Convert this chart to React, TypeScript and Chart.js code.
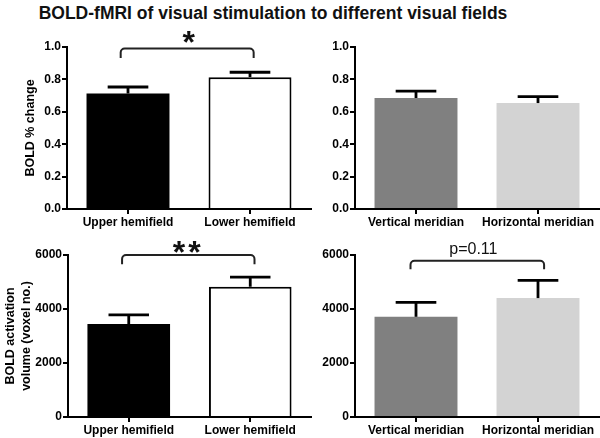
import React, { useEffect, useRef } from 'react';
import { Chart, registerables } from 'chart.js';

Chart.register(...registerables);

// ---- data ----
const hemifieldLabels = ['Upper hemifield', 'Lower hemifield'];
const meridianLabels = ['Vertical meridian', 'Horizontal meridian'];

const hemiPctMean = [0.713, 0.814];
const hemiPctSem = [0.04, 0.03];
const meridPctMean = [0.685, 0.654];
const meridPctSem = [0.043, 0.04];

const hemiVolMean = [3440, 4824];
const hemiVolSem = [345, 360];
const meridVolMean = [3711, 4404];
const meridVolSem = [534, 657];

const pctTicks = [0, 0.2, 0.4, 0.6, 0.8, 1.0];
const volTicks = [0, 2000, 4000, 6000];

const hemiColors = ['#000000', '#ffffff'];
const meridColors = ['#808080', '#d3d3d3'];

const FONT = '"Liberation Sans", Arial, Helvetica, sans-serif';

const annotPlugin = {
  id: 'annot',
  afterDatasetsDraw(chart: any, _args: any, opts: any) {
    const ctx = chart.ctx;
    const xs = chart.scales.x;
    const ys = chart.scales.y;
    const meta = chart.getDatasetMeta(0);
    ctx.save();
    // error bars (upper only)
    ctx.strokeStyle = '#000';
    ctx.lineWidth = 2.8;
    ctx.lineCap = 'butt';
    meta.data.forEach((bar: any, i: number) => {
      const m = opts.means[i];
      const e = opts.errs[i];
      const x = bar.x;
      const half = (bar.width * 0.49) / 2;
      const y0 = ys.getPixelForValue(m);
      const y1 = ys.getPixelForValue(m + e);
      ctx.beginPath();
      ctx.moveTo(x, y0);
      ctx.lineTo(x, y1);
      ctx.stroke();
      ctx.beginPath();
      ctx.moveTo(x - half, y1);
      ctx.lineTo(x + half, y1);
      ctx.stroke();
    });
    // bracket
    const b = opts.bracket;
    if (b) {
      const xa = xs.getPixelForValue(b.from);
      const xb = xs.getPixelForValue(b.to);
      const yt = ys.getPixelForValue(b.top);
      const yd = ys.getPixelForValue(b.drop);
      const r = 4;
      ctx.strokeStyle = '#222';
      ctx.lineWidth = 2;
      ctx.beginPath();
      ctx.moveTo(xa, yd);
      ctx.arcTo(xa, yt, xa + r, yt, r);
      ctx.arcTo(xb, yt, xb, yt + r, r);
      ctx.lineTo(xb, yd);
      ctx.stroke();
    }
    // significance text
    const s = opts.sig;
    if (s) {
      ctx.fillStyle = s.color || '#111';
      ctx.font = s.font;
      try {
        (ctx as any).letterSpacing = (s.spacing || 0) + 'px';
      } catch (e) {}
      const cx = xs.getPixelForValue(s.x);
      const cy = ys.getPixelForValue(s.y);
      if (s.mode === 'center') {
        ctx.textAlign = 'left';
        ctx.textBaseline = 'alphabetic';
        const m = ctx.measureText(s.text);
        const dx = cx - (m.actualBoundingBoxRight - m.actualBoundingBoxLeft) / 2;
        const dy = cy + (m.actualBoundingBoxAscent - m.actualBoundingBoxDescent) / 2;
        ctx.fillText(s.text, dx, dy);
      } else {
        ctx.textAlign = 'center';
        ctx.textBaseline = 'alphabetic';
        ctx.fillText(s.text, cx, cy);
      }
    }
    ctx.restore();
  },
};

type PanelProps = {
  left: number;
  top: number;
  width: number;
  height: number;
  padTop: number;
  padRight: number;
  yWidth: number;
  xHeight: number;
  labels: string[];
  means: number[];
  errs: number[];
  colors: string[];
  borderWidths: number[];
  yMax: number;
  yTicks: number[];
  yDigits: number;
  yTitle?: string | string[];
  yTitlePad?: number;
  bracket?: any;
  sig?: any;
};

function Panel(p: PanelProps) {
  const ref = useRef<HTMLCanvasElement | null>(null);
  useEffect(() => {
    if (!ref.current) return;
    const chart = new Chart(ref.current, {
      type: 'bar',
      data: {
        labels: p.labels,
        datasets: [
          {
            data: p.means,
            backgroundColor: p.colors,
            borderColor: '#000',
            borderWidth: p.borderWidths,
            categoryPercentage: 1,
            barPercentage: 0.68,
          },
        ],
      },
      options: {
        responsive: false,
        animation: false,
        devicePixelRatio: 1,
        layout: { padding: { top: p.padTop, right: p.padRight, left: 0, bottom: 0 } },
        plugins: {
          legend: { display: false },
          tooltip: { enabled: false },
          title: { display: false },
          annot: { means: p.means, errs: p.errs, bracket: p.bracket, sig: p.sig },
        } as any,
        scales: {
          x: {
            type: 'category',
            offset: true,
            afterFit: (s: any) => {
              s.height = p.xHeight;
            },
            grid: {
              display: true,
              drawOnChartArea: false,
              drawTicks: true,
              tickLength: 5,
              offset: false,
              color: '#000',
              lineWidth: 2,
            },
            border: { display: true, color: '#000', width: 2 },
            ticks: {
              color: '#000',
              padding: 1,
              maxRotation: 0,
              autoSkip: false,
              font: { family: FONT, size: 12, weight: 'bold' },
            },
          },
          y: {
            min: 0,
            max: p.yMax,
            afterBuildTicks: (s: any) => {
              s.ticks = p.yTicks.map((v) => ({ value: v }));
            },
            afterFit: (s: any) => {
              s.width = p.yWidth;
            },
            grid: {
              display: true,
              drawOnChartArea: false,
              drawTicks: true,
              tickLength: 5,
              color: '#000',
              lineWidth: 2,
            },
            border: { display: true, color: '#000', width: 2 },
            ticks: {
              color: '#000',
              padding: 1,
              font: { family: FONT, size: 12, weight: 'bold' },
              callback: (v: any) => Number(v).toFixed(p.yDigits),
            },
            title: p.yTitle
              ? {
                  display: true,
                  text: p.yTitle,
                  color: '#000',
                  padding: { top: p.yTitlePad || 0, bottom: 0 },
                  font: { family: FONT, size: 12.5, weight: 'bold', lineHeight: 1.24 },
                }
              : { display: false },
          },
        },
      } as any,
      plugins: [annotPlugin],
    });
    return () => chart.destroy();
  }, []);
  return (
    <div style={{ position: 'absolute', left: p.left, top: p.top, width: p.width, height: p.height }}>
      <canvas ref={ref} width={p.width} height={p.height} style={{ display: 'block' }} />
    </div>
  );
}

export default function App() {
  return (
    <div
      style={{
        position: 'absolute',
        left: 0,
        top: 0,
        width: 600,
        height: 438,
        background: '#ffffff',
        overflow: 'hidden',
      }}
    >
      <div
        style={{
          position: 'absolute',
          left: 0,
          top: 2,
          width: 546,
          height: 22,
          lineHeight: '22px',
          textAlign: 'center',
          fontFamily: FONT,
          fontWeight: 'bold',
          fontSize: 17.5,
          color: '#111',
          whiteSpace: 'nowrap',
        }}
      >
        BOLD-fMRI of visual stimulation to different visual fields
      </div>
      <Panel
        left={0}
        top={30}
        width={320}
        height={200}
        padTop={17}
        padRight={9}
        yWidth={67}
        xHeight={21}
        labels={hemifieldLabels}
        means={hemiPctMean}
        errs={hemiPctSem}
        colors={hemiColors}
        borderWidths={[0, 2]}
        yMax={1}
        yTicks={pctTicks}
        yDigits={1}
        yTitle="BOLD % change"
        yTitlePad={23.25}
        bracket={{ from: -0.06, to: 1.03, top: 0.99, drop: 0.932 }}
        sig={{ text: '*', x: 0.5, y: 1.06, font: `bold 32px ${FONT}`, mode: 'center' }}
      />
      <Panel
        left={310}
        top={30}
        width={290}
        height={200}
        padTop={17}
        padRight={1}
        yWidth={45}
        xHeight={21}
        labels={meridianLabels}
        means={meridPctMean}
        errs={meridPctSem}
        colors={meridColors}
        borderWidths={[0, 0]}
        yMax={1}
        yTicks={pctTicks}
        yDigits={1}
      />
      <Panel
        left={0}
        top={235}
        width={320}
        height={203}
        padTop={20}
        padRight={9}
        yWidth={68}
        xHeight={21}
        labels={hemifieldLabels}
        means={hemiVolMean}
        errs={hemiVolSem}
        colors={hemiColors}
        borderWidths={[0, 2]}
        yMax={6000}
        yTicks={volTicks}
        yDigits={0}
        yTitle={['BOLD activation', 'volume (voxel no.)']}
        yTitlePad={3.25}
        bracket={{ from: -0.055, to: 1.035, top: 6000, drop: 5655 }}
        sig={{ text: '**', x: 0.48, y: 6278, font: `bold 32px ${FONT}`, mode: 'center', spacing: 3 }}
      />
      <Panel
        left={310}
        top={235}
        width={290}
        height={203}
        padTop={20}
        padRight={1}
        yWidth={45}
        xHeight={21}
        labels={meridianLabels}
        means={meridVolMean}
        errs={meridVolSem}
        colors={meridColors}
        borderWidths={[0, 0]}
        yMax={6000}
        yTicks={volTicks}
        yDigits={0}
        bracket={{ from: -0.045, to: 1.05, top: 5788, drop: 5470 }}
        sig={{ text: 'p=0.11', x: 0.47, y: 6026, font: `16px ${FONT}`, mode: 'baseline' }}
      />
    </div>
  );
}
